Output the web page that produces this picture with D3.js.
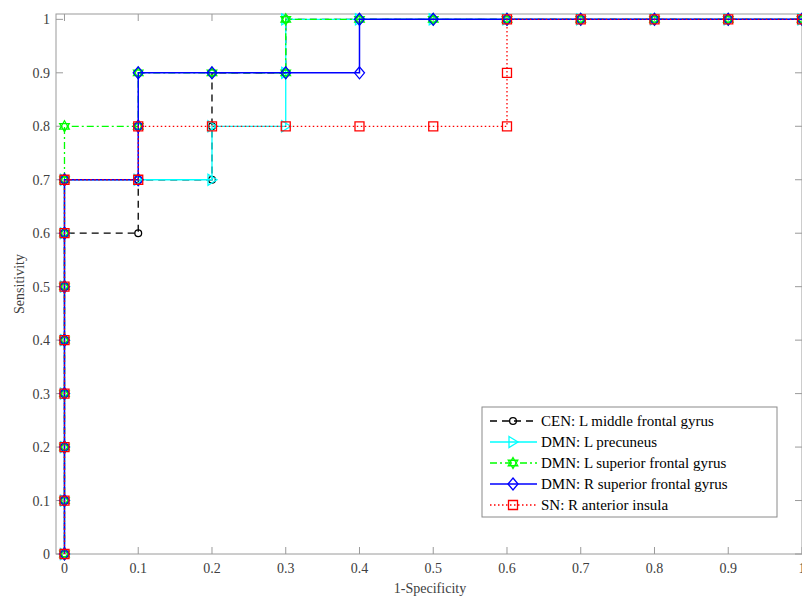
<!DOCTYPE html>
<html>
<head>
<meta charset="utf-8">
<script src="https://cdn.jsdelivr.net/npm/d3@7"></script>
<style>
  body { margin: 0; background: #fff; }
  text { font-family: "Liberation Serif", "Times New Roman", serif; fill: #404040; }
</style>
</head>
<body>
<div id="chart"></div>
<script>
const width = 802;
const height = 600;

// ROC points per region (x = 1-specificity, y = sensitivity)
const cenX = [0, 0, 0, 0, 0, 0, 0, 0.1, 0.1, 0.2, 0.2, 0.2, 0.3, 0.3, 0.4, 0.5, 0.6, 0.7, 0.8, 0.9, 1];
const cenY = [0, 0.1, 0.2, 0.3, 0.4, 0.5, 0.6, 0.6, 0.7, 0.7, 0.8, 0.9, 0.9, 1, 1, 1, 1, 1, 1, 1, 1];
const precX = [0, 0, 0, 0, 0, 0, 0, 0, 0.1, 0.2, 0.2, 0.3, 0.3, 0.3, 0.4, 0.5, 0.6, 0.7, 0.8, 0.9, 1];
const precY = [0, 0.1, 0.2, 0.3, 0.4, 0.5, 0.6, 0.7, 0.7, 0.7, 0.8, 0.8, 0.9, 1, 1, 1, 1, 1, 1, 1, 1];
const lsfgX = [0, 0, 0, 0, 0, 0, 0, 0, 0, 0.1, 0.1, 0.2, 0.3, 0.3, 0.4, 0.5, 0.6, 0.7, 0.8, 0.9, 1];
const lsfgY = [0, 0.1, 0.2, 0.3, 0.4, 0.5, 0.6, 0.7, 0.8, 0.8, 0.9, 0.9, 0.9, 1, 1, 1, 1, 1, 1, 1, 1];
const rsfgX = [0, 0, 0, 0, 0, 0, 0, 0, 0.1, 0.1, 0.1, 0.2, 0.3, 0.4, 0.4, 0.5, 0.6, 0.7, 0.8, 0.9, 1];
const rsfgY = [0, 0.1, 0.2, 0.3, 0.4, 0.5, 0.6, 0.7, 0.7, 0.8, 0.9, 0.9, 0.9, 0.9, 1, 1, 1, 1, 1, 1, 1];
const insX = [0, 0, 0, 0, 0, 0, 0, 0, 0.1, 0.1, 0.2, 0.3, 0.4, 0.5, 0.6, 0.6, 0.6, 0.7, 0.8, 0.9, 1];
const insY = [0, 0.1, 0.2, 0.3, 0.4, 0.5, 0.6, 0.7, 0.7, 0.8, 0.8, 0.8, 0.8, 0.8, 0.8, 0.9, 1, 1, 1, 1, 1];

const labels = [
  "CEN: L middle frontal gyrus",
  "DMN: L precuneus",
  "DMN: L superior frontal gyrus",
  "DMN: R superior frontal gyrus",
  "SN: R anterior insula",
];
const xTicks = [0, 0.1, 0.2, 0.3, 0.4, 0.5, 0.6, 0.7, 0.8, 0.9, 1];
const yTicks = [0, 0.1, 0.2, 0.3, 0.4, 0.5, 0.6, 0.7, 0.8, 0.9, 1];

const series = [
  { name: labels[0], xs: cenX, ys: cenY, color: "#000000", dash: "7,5", marker: "circle", w: 1.3 },
  { name: labels[1], xs: precX, ys: precY, color: "#00ffff", dash: null, marker: "triangle", w: 1.3 },
  { name: labels[2], xs: lsfgX, ys: lsfgY, color: "#00ff00", dash: "7,3,2,3", marker: "hexagram", w: 1.3 },
  { name: labels[3], xs: rsfgX, ys: rsfgY, color: "#0000ff", dash: null, marker: "diamond", w: 1.5 },
  { name: labels[4], xs: insX, ys: insY, color: "#ff0000", dash: "1.5,2.5", marker: "square", w: 1.3 },
];

const plotL = 56, plotR = 802, plotT = 14, plotB = 554;
const x = d3.scaleLinear().domain([-0.0115, 1]).range([plotL, plotR]);
const y = d3.scaleLinear().domain([0, 1.01]).range([plotB, plotT]);

const svg = d3.select("#chart").append("svg")
  .attr("width", width).attr("height", height);

// marker shapes
function markerPath(type) {
  if (type === "circle") return d3.symbol(d3.symbolCircle, 36)();
  if (type === "square") return "M-4.5,-4.5L4.5,-4.5L4.5,4.5L-4.5,4.5Z";
  if (type === "diamond") return "M0,-6L5,0L0,6L-5,0Z";
  if (type === "triangle") return "M-4,-5.5L5,0L-4,5.5Z";
  if (type === "hexagram") {
    const r = 5.5;
    const tri = (a0) => d3.range(3).map((i) => {
      const a = a0 + i * 2 * Math.PI / 3;
      return [r * Math.sin(a), -r * Math.cos(a)];
    });
    const p = (pts) => "M" + pts.map((q) => q.join(",")).join("L") + "Z";
    return p(tri(0)) + p(tri(Math.PI));
  }
}

// axes box
svg.append("rect")
  .attr("x", plotL).attr("y", plotT)
  .attr("width", plotR - plotL).attr("height", plotB - plotT)
  .attr("fill", "none").attr("stroke", "#9a9a9a").attr("stroke-width", 1);

const ax = svg.append("g").attr("stroke", "#9a9a9a").attr("stroke-width", 1);
xTicks.forEach((t) => {
  ax.append("line").attr("x1", x(t)).attr("x2", x(t)).attr("y1", plotB).attr("y2", plotB - 7);
  ax.append("line").attr("x1", x(t)).attr("x2", x(t)).attr("y1", plotT).attr("y2", plotT + 7);
});
yTicks.forEach((t) => {
  ax.append("line").attr("x1", plotL).attr("x2", plotL + 7).attr("y1", y(t)).attr("y2", y(t));
  ax.append("line").attr("x1", plotR).attr("x2", plotR - 7).attr("y1", y(t)).attr("y2", y(t));
});

svg.append("g").selectAll("text").data(xTicks).join("text")
  .attr("x", (d) => x(d)).attr("y", plotB + 19)
  .attr("text-anchor", "middle").attr("font-size", 14)
  .text((d) => d3.format("")(d));

svg.append("g").selectAll("text").data(yTicks).join("text")
  .attr("x", plotL - 6).attr("y", (d) => y(d) + 5)
  .attr("text-anchor", "end").attr("font-size", 14)
  .text((d) => d3.format("")(d));

svg.append("text")
  .attr("x", 430).attr("y", 593)
  .attr("text-anchor", "middle").attr("font-size", 14)
  .text("1-Specificity");

svg.append("text")
  .attr("transform", "translate(24," + 284 + ") rotate(-90)")
  .attr("text-anchor", "middle").attr("font-size", 14)
  .text("Sensitivity");

// curves
const line = d3.line().x((d) => x(d[0])).y((d) => y(d[1]));
series.forEach((s) => {
  const pts = s.xs.map((v, i) => [v, s.ys[i]]);
  const g = svg.append("g");
  g.append("path")
    .attr("d", line(pts))
    .attr("fill", "none")
    .attr("stroke", s.color)
    .attr("stroke-width", s.w)
    .attr("stroke-dasharray", s.dash);
  g.selectAll("path.m").data(pts).join("path")
    .attr("class", "m")
    .attr("d", markerPath(s.marker))
    .attr("transform", (d) => "translate(" + x(d[0]) + "," + y(d[1]) + ")")
    .attr("fill", "none")
    .attr("stroke", s.color)
    .attr("stroke-width", 1.3);
});

// legend
const lg = svg.append("g");
lg.append("rect")
  .attr("x", 482).attr("y", 407).attr("width", 295).attr("height", 110)
  .attr("fill", "#fff").attr("stroke", "#8a8a8a").attr("stroke-width", 1);
series.forEach((s, i) => {
  const cy = 421 + i * 21;
  lg.append("line")
    .attr("x1", 490).attr("x2", 537).attr("y1", cy).attr("y2", cy)
    .attr("stroke", s.color).attr("stroke-width", s.w)
    .attr("stroke-dasharray", s.dash);
  lg.append("path")
    .attr("d", markerPath(s.marker))
    .attr("transform", "translate(513," + cy + ")")
    .attr("fill", "none").attr("stroke", s.color).attr("stroke-width", 1.3);
  lg.append("text")
    .attr("x", 541).attr("y", cy + 5)
    .attr("font-size", 15).style("fill", "#000")
    .text(s.name);
});
</script>
</body>
</html>
